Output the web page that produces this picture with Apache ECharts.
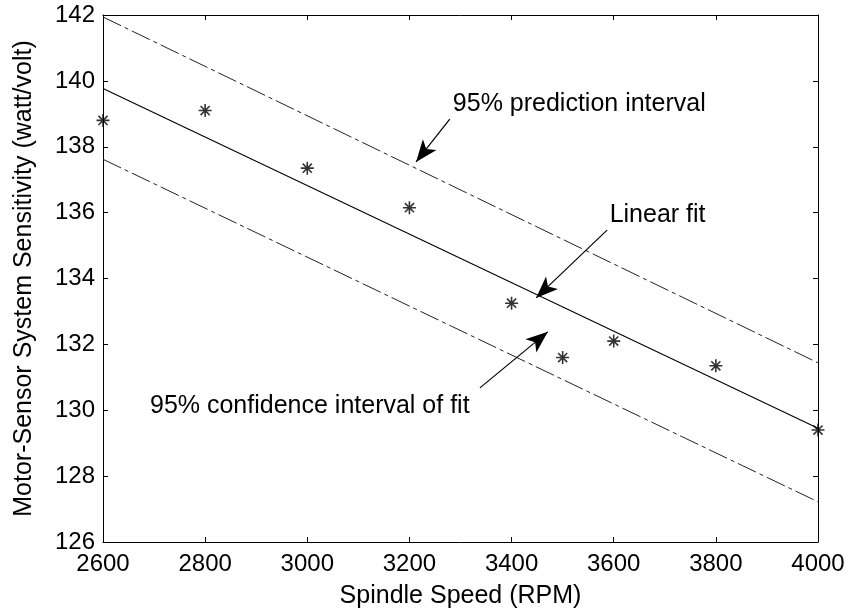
<!DOCTYPE html>
<html>
<head>
<meta charset="utf-8">
<script src="https://cdn.jsdelivr.net/npm/echarts@6/dist/echarts.min.js"></script>
<style>html,body{margin:0;padding:0;background:#fff}#c{width:849px;height:616px}</style>
</head>
<body>
<div id="c"></div>
<script>
// Measured data
var speeds = [2600, 2800, 3000, 3200, 3400, 3500, 3600, 3800, 4000];
var sensitivity = [138.8, 139.1, 137.35, 136.15, 133.25, 131.6, 132.1, 131.35, 129.4];
// Fit and bounds (end points)
var lineX = [2600, 4000];
var fitY = [139.77, 129.45];
var upperPI = [141.94, 131.44];
var lowerPI = [137.62, 127.22];
// Tick labels
var xTicks = [2600, 2800, 3000, 3200, 3400, 3600, 3800, 4000];
var yTicks = [126, 128, 130, 132, 134, 136, 138, 140, 142];
// Annotations
var annTexts = ['95% prediction interval', 'Linear fit', '95% confidence interval of fit'];
var annTextPos = [[3285, 139.30], [3592, 135.93], [2692, 130.13]];
var annArrowFrom = [[3279, 138.84], [3587, 135.47], [3338, 130.68]];
var annArrowTo = [[3213, 137.54], [3448, 133.41], [3471, 132.38]];

function pairs(xs, ys) { return xs.map(function (x, i) { return [x, ys[i]]; }); }

var FONT = '"Liberation Sans", Arial, Helvetica, sans-serif';
var chart = echarts.init(document.getElementById('c'), null, {renderer: 'canvas'});

var axisCommon = {
  axisLine: {show: true, lineStyle: {color: '#000', width: 1}},
  axisTick: {show: true, inside: true, length: 5, lineStyle: {color: '#000'}},
  splitLine: {show: false}
};

var option = {
  animation: false,
  backgroundColor: '#fff',
  grid: {left: 103, right: 31, top: 15, bottom: 74, containLabel: false},
  xAxis: [
    Object.assign({
      type: 'value', min: xTicks[0], max: xTicks[xTicks.length - 1], interval: 200, position: 'bottom',
      name: 'Spindle Speed (RPM)', nameLocation: 'middle', nameGap: 42,
      nameTextStyle: {fontFamily: FONT, fontSize: 25, color: '#000'},
      axisLabel: {fontFamily: FONT, fontSize: 24, color: '#000', margin: 10,
        formatter: function (v) { return String(v); }}
    }, axisCommon),
    Object.assign({
      type: 'value', min: xTicks[0], max: xTicks[xTicks.length - 1], interval: 200, position: 'top',
      axisLabel: {show: false}
    }, axisCommon)
  ],
  yAxis: [
    Object.assign({
      type: 'value', min: yTicks[0], max: yTicks[yTicks.length - 1], interval: 2, position: 'left',
      name: 'Motor-Sensor System Sensitivity (watt/volt)', nameLocation: 'middle', nameGap: 66,
      nameTextStyle: {fontFamily: FONT, fontSize: 25, color: '#000'},
      axisLabel: {fontFamily: FONT, fontSize: 24, color: '#000', margin: 8,
        formatter: function (v) { return String(v); }}
    }, axisCommon),
    Object.assign({
      type: 'value', min: yTicks[0], max: yTicks[yTicks.length - 1], interval: 2, position: 'right',
      axisLabel: {show: false}
    }, axisCommon)
  ],
  series: [
    {
      type: 'line', name: 'Upper prediction', data: pairs(lineX, upperPI), symbol: 'none',
      lineStyle: {color: '#222', width: 1, type: [20, 4, 4, 4]}, z: 2
    },
    {
      type: 'line', name: 'Lower prediction', data: pairs(lineX, lowerPI), symbol: 'none',
      lineStyle: {color: '#222', width: 1, type: [20, 4, 4, 4]}, z: 2
    },
    {
      type: 'line', name: 'Linear fit', data: pairs(lineX, fitY), symbol: 'none',
      lineStyle: {color: '#000', width: 1.1}, z: 3,
      markLine: {
        silent: true, symbol: ['none', 'arrow'], symbolSize: [13, 22],
        lineStyle: {color: '#000', width: 1.2, type: 'solid'},
        label: {show: false},
        data: annArrowFrom.map(function (p, i) { return [{coord: p}, {coord: annArrowTo[i]}]; })
      },
      markPoint: {
        silent: true, symbol: 'circle', symbolSize: 0,
        label: {show: true, position: 'right', distance: 0, color: '#000', fontFamily: FONT, fontSize: 25,
          formatter: function (p) { return p.name; }},
        data: annTexts.map(function (t, i) { return {name: t, coord: annTextPos[i]}; })
      }
    },
    {
      type: 'scatter', name: 'Data', data: pairs(speeds, sensitivity),
      symbol: 'path://M0,-6L0,6M-6,0L6,0M-4.2,-4.2L4.2,4.2M-4.2,4.2L4.2,-4.2',
      symbolSize: 13,
      itemStyle: {color: 'transparent', borderColor: '#000', borderWidth: 1.6}, z: 5
    }
  ]
};
chart.setOption(option);
</script>
</body>
</html>
